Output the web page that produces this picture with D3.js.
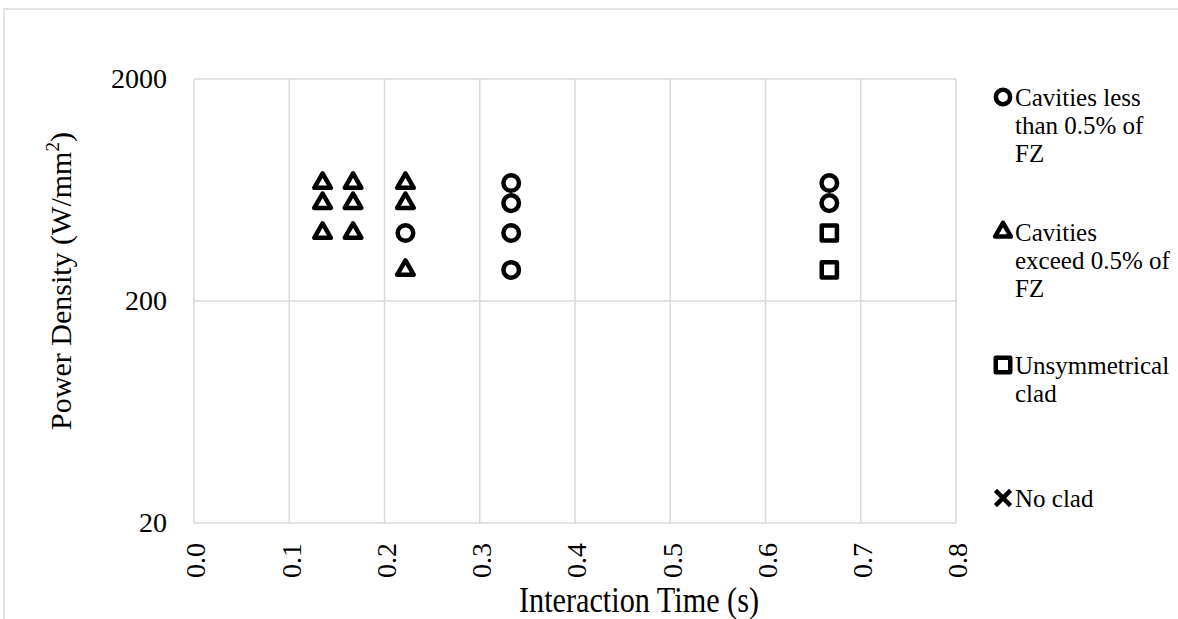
<!DOCTYPE html>
<html lang="en">
<head>
  <meta charset="UTF-8">
  <title>Power Density vs Interaction Time</title>
  <script src="https://cdn.jsdelivr.net/npm/d3@7"></script>
  <style>
    body { margin: 0; background: #fff; }
    svg text { font-family: "Liberation Serif", "Times New Roman", serif !important; fill: #000; }
  </style>
</head>
<body>
<script>
  let w = 1178;
  let h = 619;

  // data
  let xTicks = [0, 0.1, 0.2, 0.3, 0.4, 0.5, 0.6, 0.7, 0.8];
  let yTicks = [20, 200, 2000];

  let lessTime = [0.222, 0.333, 0.333, 0.333, 0.333, 0.667, 0.667];
  let lessPower = [405, 680, 552, 405, 276, 680, 552];

  let exceedTime = [0.135, 0.135, 0.135, 0.167, 0.167, 0.167, 0.222, 0.222, 0.222];
  let exceedPower = [680, 552, 405, 680, 552, 405, 680, 552, 276];

  let unsymTime = [0.667, 0.667];
  let unsymPower = [405, 276];

  let noCladTime = [];
  let noCladPower = [];

  let legendNames = [
    ["Cavities less", "than 0.5% of", "FZ"],
    ["Cavities", "exceed 0.5% of", "FZ"],
    ["Unsymmetrical", "clad"],
    ["No clad"]
  ];

  let pLeft = 194, pRight = 956, pTop = 79, pBottom = 523;

  let svg = d3.select("body").append("svg").attr("width", w).attr("height", h);

  // outer chart border
  svg.append("rect").attr("x", 4).attr("y", 9).attr("width", w + 20).attr("height", h + 20)
    .attr("fill", "none").attr("stroke", "#d9d9d9").attr("stroke-width", 1.5);

  let x = d3.scaleLinear().domain([0, 0.8]).range([pLeft, pRight]);
  let y = d3.scaleLog().domain([20, 2000]).range([pBottom, pTop]);

  // grid
  svg.selectAll("line.vg").data(xTicks).enter().append("line")
    .attr("x1", d => x(d)).attr("x2", d => x(d)).attr("y1", pTop).attr("y2", pBottom)
    .attr("stroke", "#d9d9d9").attr("stroke-width", 1.5);
  svg.selectAll("line.hg").data(yTicks).enter().append("line")
    .attr("x1", pLeft).attr("x2", pRight).attr("y1", d => y(d)).attr("y2", d => y(d))
    .attr("stroke", "#d9d9d9").attr("stroke-width", 1.5);

  // axes (labels only, lines come from grid)
  let xAxis = svg.append("g").attr("transform", "translate(0," + pBottom + ")")
    .call(d3.axisBottom(x).tickValues(xTicks).tickFormat(d3.format(".1f")).tickSize(0));
  xAxis.select(".domain").remove();
  xAxis.selectAll("text")
    .attr("font-size", 28)
    .attr("text-anchor", "end")
    .attr("transform", "rotate(-90)")
    .attr("x", -20).attr("y", 1).attr("dy", "0.35em");

  let yAxis = svg.append("g").attr("transform", "translate(" + pLeft + ",0)")
    .call(d3.axisLeft(y).tickValues(yTicks).tickFormat(d3.format("d")).tickSize(0));
  yAxis.select(".domain").remove();
  yAxis.selectAll("text")
    .attr("font-size", 28)
    .attr("x", -27).attr("dy", "0.32em");

  // axis titles
  svg.append("text").attr("x", 639).attr("y", 612).attr("text-anchor", "middle")
    .attr("font-size", 35).attr("textLength", 240).attr("lengthAdjust", "spacingAndGlyphs")
    .text("Interaction Time (s)");

  let yt = svg.append("text").attr("transform", "translate(71,281) rotate(-90)")
    .attr("text-anchor", "middle").attr("font-size", 30);
  yt.append("tspan").text("Power Density (W/mm");
  yt.append("tspan").attr("font-size", 19).attr("dy", -12).text("2");
  yt.append("tspan").attr("dy", 12).text(")");

  // markers
  let circleSym = d3.symbol().type(d3.symbolCircle).size(190);
  let triSym = d3.symbol().type(d3.symbolTriangle).size(120);
  let sqSym = d3.symbol().type(d3.symbolSquare).size(230);
  let crossSym = d3.symbol().type(d3.symbolX).size(160);

  function plot(times, powers, sym) {
    svg.append("g").selectAll("path").data(times).enter().append("path")
      .attr("d", sym)
      .attr("transform", (d, i) => "translate(" + x(d) + "," + y(powers[i]) + ")")
      .attr("fill", "none").attr("stroke", "#000").attr("stroke-width", 4.5)
      .attr("stroke-linejoin", "round");
  }
  plot(lessTime, lessPower, circleSym);
  plot(exceedTime, exceedPower, triSym);
  plot(unsymTime, unsymPower, sqSym);
  plot(noCladTime, noCladPower, crossSym);

  // legend
  let legY = [97, 232, 365, 498];
  let legSyms = [
    d3.symbol().type(d3.symbolCircle).size(160),
    d3.symbol().type(d3.symbolTriangle).size(110),
    d3.symbol().type(d3.symbolSquare).size(210),
    d3.symbol().type(d3.symbolX).size(150)
  ];
  legendNames.forEach(function (lines, i) {
    svg.append("path").attr("d", legSyms[i])
      .attr("transform", "translate(1003," + legY[i] + ")")
      .attr("fill", "none").attr("stroke", "#000").attr("stroke-width", 4.5)
      .attr("stroke-linejoin", "round");
    lines.forEach(function (t, j) {
      svg.append("text").attr("x", 1015).attr("y", legY[i] + j * 28).attr("dy", "0.35em")
        .attr("font-size", 25).text(t);
    });
  });
</script>
</body>
</html>
